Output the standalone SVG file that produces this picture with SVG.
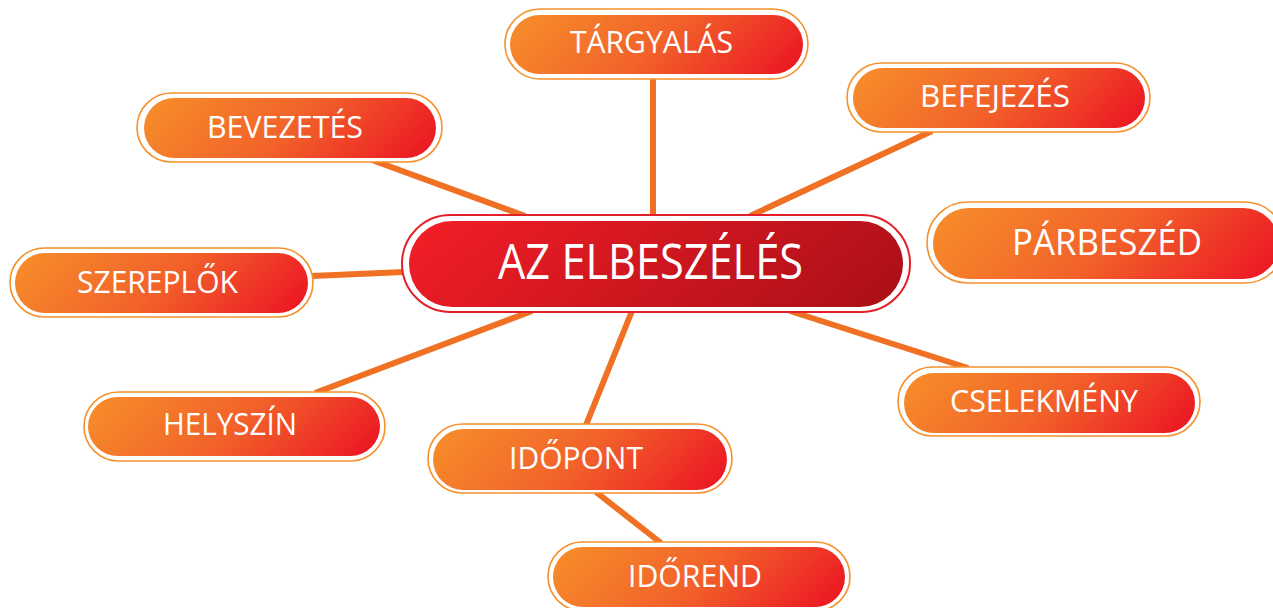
<svg xmlns="http://www.w3.org/2000/svg" width="1273" height="608" viewBox="0 0 1273 608">
<defs>
<linearGradient id="gO" x1="0" y1="0.4" x2="1" y2="0.6">
<stop offset="0" stop-color="#F6892A"/>
<stop offset="0.5" stop-color="#F2622A"/>
<stop offset="1" stop-color="#EC1C24"/>
</linearGradient>
<linearGradient id="gR" x1="0" y1="0.4" x2="1" y2="0.6">
<stop offset="0" stop-color="#EE1D26"/>
<stop offset="1" stop-color="#AE1018"/>
</linearGradient>
<style>
.o{fill:#fff;stroke:#F6902A;stroke-width:1.6}
.i{fill:url(#gO)}
.mo{fill:#fff;stroke:#E3202A;stroke-width:2}
.mi{fill:url(#gR)}
.t{fill:#fff;font-family:"Open Sans","Liberation Sans",sans-serif;font-size:31px}
.c{stroke:#F07024;stroke-width:6;fill:none}
</style>
</defs>
<rect width="1273" height="608" fill="#fff"/>
<g id="connectors">
<line class="c" x1="372" y1="160" x2="525" y2="216"/>
<line class="c" x1="653" y1="78" x2="653" y2="216"/>
<line class="c" x1="932" y1="131" x2="750" y2="216"/>
<line class="c" x1="312" y1="276" x2="404" y2="272"/>
<line class="c" x1="315" y1="393" x2="532" y2="311"/>
<line class="c" x1="586" y1="425" x2="632" y2="311"/>
<line class="c" x1="790" y1="311" x2="968" y2="368"/>
<line class="c" x1="596" y1="492" x2="661" y2="543"/>
</g>
<g id="main">
<rect class="mo" x="402" y="215" width="508" height="97" rx="48.5"/>
<rect class="mi" x="409" y="221" width="494" height="86" rx="43"/>
<text class="t" x="498" y="279" style="font-size:49px" textLength="305" lengthAdjust="spacingAndGlyphs">AZ ELBESZÉLÉS</text>
</g>
<g id="targyalas">
<rect class="o" x="505" y="9" width="303" height="70" rx="35"/>
<rect class="i" x="510" y="15" width="293" height="59" rx="29.5"/>
<text class="t" x="570" y="53" textLength="163" lengthAdjust="spacingAndGlyphs">TÁRGYALÁS</text>
</g>
<g id="bevezetes">
<rect class="o" x="137" y="93" width="305" height="69" rx="34.5"/>
<rect class="i" x="144" y="98" width="292" height="60" rx="30"/>
<text class="t" x="207" y="138" textLength="156" lengthAdjust="spacingAndGlyphs">BEVEZETÉS</text>
</g>
<g id="befejezes">
<rect class="o" x="847" y="63" width="303" height="69" rx="34.5"/>
<rect class="i" x="853" y="68" width="292" height="60" rx="30"/>
<text class="t" x="920" y="107" textLength="150" lengthAdjust="spacingAndGlyphs">BEFEJEZÉS</text>
</g>
<g id="parbeszed">
<rect class="o" x="927" y="202" width="358" height="81" rx="40.5"/>
<rect class="i" x="933" y="208" width="346" height="71" rx="35.5"/>
<text class="t" x="1012" y="255" style="font-size:37px" textLength="190" lengthAdjust="spacingAndGlyphs">PÁRBESZÉD</text>
</g>
<g id="szereplok">
<rect class="o" x="10" y="248" width="303" height="69" rx="34.5"/>
<rect class="i" x="15" y="253" width="293" height="60" rx="30"/>
<text class="t" x="77" y="293" textLength="161" lengthAdjust="spacingAndGlyphs">SZEREPLŐK</text>
</g>
<g id="helyszin">
<rect class="o" x="84" y="392" width="301" height="69" rx="34.5"/>
<rect class="i" x="88" y="397" width="292" height="59" rx="29.5"/>
<text class="t" x="163" y="435" textLength="134" lengthAdjust="spacingAndGlyphs">HELYSZÍN</text>
</g>
<g id="cselekmeny">
<rect class="o" x="898" y="367" width="302" height="69" rx="34.5"/>
<rect class="i" x="904" y="373" width="291" height="60" rx="30"/>
<text class="t" x="950" y="412" textLength="188" lengthAdjust="spacingAndGlyphs">CSELEKMÉNY</text>
</g>
<g id="idopont">
<rect class="o" x="428" y="424" width="304" height="69" rx="34.5"/>
<rect class="i" x="433" y="429" width="294" height="61" rx="30.5"/>
<text class="t" x="509" y="469" textLength="134" lengthAdjust="spacingAndGlyphs">IDŐPONT</text>
</g>
<g id="idorend">
<rect class="o" x="548" y="542" width="302" height="69" rx="34.5"/>
<rect class="i" x="553" y="547" width="292" height="60" rx="30"/>
<text class="t" x="628" y="587" textLength="134" lengthAdjust="spacingAndGlyphs">IDŐREND</text>
</g>
</svg>
